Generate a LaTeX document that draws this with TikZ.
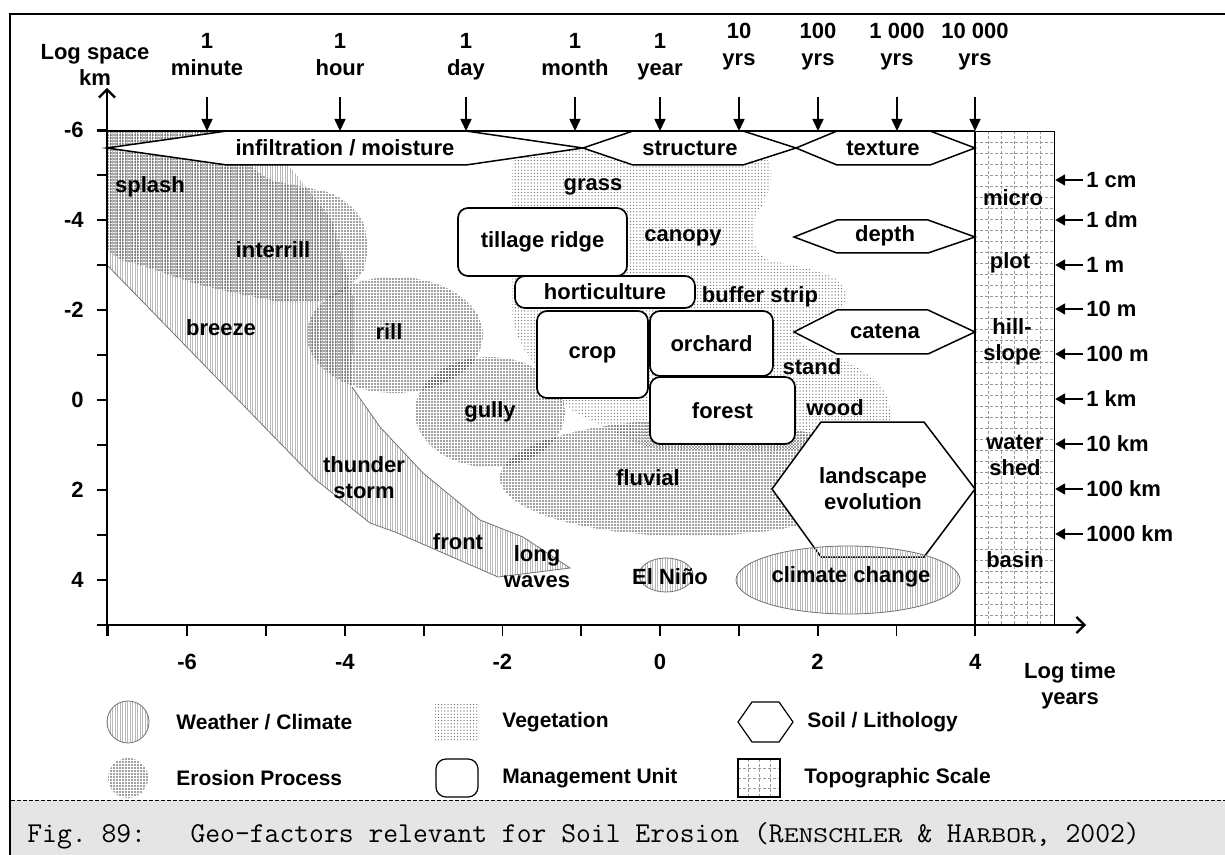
\documentclass[tikz,border=0pt]{standalone}
\usepackage{fontspec}
\setmainfont{Liberation Sans}
\usepackage{graphicx}
\usepackage{tikz}
\usetikzlibrary{positioning}
\usetikzlibrary{arrows.meta}
\usetikzlibrary{patterns.meta}
\definecolor{capgray}{rgb}{0.9,0.9,0.9}
\definecolor{rimgray}{rgb}{0.45,0.45,0.45}
\definecolor{gridgray}{rgb}{0.6,0.6,0.6}
\newcommand{\smcp}[1]{\scalebox{1}[0.78]{#1}}

\begin{document}
\begin{tikzpicture}[x=0.5pt,y=-0.5pt,
font=\bfseries\fontsize{11}{13}\selectfont,
txt/.style={inner sep=0pt, align=center},
legendtxt/.style={anchor=west, inner sep=0pt, font=\bfseries\fontsize{10.5}{12}\selectfont},
unitbox/.style={draw, line width=0.85pt, fill=white, rounded corners=5pt, inner sep=0pt},
soil/.style={draw, line width=0.75pt, fill=white},
erosion/.style={pattern={Dots[distance=1.5pt,radius=0.42pt]}, pattern color=black!75},
vegetation/.style={pattern={Dots[distance=1.6pt,radius=0.3pt]}, pattern color=black!65},
weather/.style={pattern={Lines[angle=90,distance=1.25pt,line width=0.25pt]}, pattern color=black!28},
rim/.style={draw=rimgray, line width=0.4pt},
gridline/.style={draw=gridgray, line width=0.3pt, dash pattern=on 1.5pt off 1pt},
axisline/.style={line width=1.1pt},
tickmark/.style={line width=0.9pt},
timearrow/.style={line width=0.8pt, -{Triangle[length=6pt,width=5.5pt]}},
scalearrow/.style={line width=0.9pt, -{Triangle[length=5pt,width=5.5pt]}}]
\useasboundingbox (0,0) rectangle (1225,855);

% frame and caption strip
\fill[capgray] (11,800) rectangle (1225,855);
\draw[line width=0.5pt, dash pattern=on 2pt off 1pt] (11,800) -- (1225,800);
\draw[line width=1.4pt] (10,855) -- (10,14) -- (1225,14);
\node[anchor=west, inner sep=0pt, font=\ttfamily\mdseries\fontsize{14.4}{16}\selectfont] (caption) at (27,836)
  {Fig.~89:~~~Geo-factors relevant for Soil Erosion (R\smcp{ENSCHLER} \& H\smcp{ARBOR}, 2002)};

% patterned areas
\begin{scope}
\clip (107,131) rectangle (975,625);
\fill[weather] (107,131) -- (262,131) -- (332,220) -- (354,300) -- (352,387) -- (380,427) -- (423,473) -- (480,520) -- (523,537) -- (570,568) -- (498,577) -- (395,532) -- (370,523) -- (316,480) -- (107,265) -- cycle;
\draw[rim] (107,265) -- (316,480) -- (370,523) -- (395,532) -- (498,577) -- (570,568) -- (523,537) -- (480,520) -- (423,473) -- (380,427) -- (352,387);
\fill[erosion, rounded corners=14pt] (100,124) -- (236,124) -- (252,178) -- (302,186) -- (352,198) -- (374,246) -- (354,292) -- (300,306) -- (240,294) -- (186,282) -- (150,266) -- (100,256) -- cycle;
\fill[erosion] (395,335) ellipse [x radius=88, y radius=58];
\fill[erosion] (490,412) ellipse [x radius=75, y radius=55];
\fill[erosion] (690,478) ellipse [x radius=190, y radius=58];
\fill[vegetation, rounded corners=10pt] (512,150) -- (770,150) -- (772,196) -- (752,212) -- (754,258) -- (800,266) -- (846,280) -- (848,312) -- (806,318) -- (790,342) -- (840,356) -- (888,388) -- (893,442) -- (780,452) -- (650,450) -- (560,405) -- (512,330) -- cycle;
\end{scope}

% soil band on top
\draw[soil] (107,148) -- (227,131) -- (466,131) -- (583,148) -- (466,165) -- (227,165) -- cycle;
\draw[soil] (583,148) -- (633,131) -- (743,131) -- (796,148) -- (743,165) -- (633,165) -- cycle;
\draw[soil] (796,148) -- (837,131) -- (930,131) -- (975,148) -- (930,165) -- (837,165) -- cycle;
\node[txt] (infil) at (345,148) {infiltration / moisture};
\node[txt] (struct) at (690,148) {structure};
\node[txt] (texture) at (883,148) {texture};

% soil shapes on the right
\draw[soil] (794,237) -- (837,220) -- (928,220) -- (975,237) -- (928,253) -- (837,253) -- cycle;
\draw[soil] (794,332) -- (837,310) -- (928,310) -- (975,332) -- (928,354) -- (837,354) -- cycle;
\draw[soil] (772,489) -- (821,422) -- (924,422) -- (975,489) -- (924,557) -- (821,557) -- cycle;
\node[txt] (depth) at (885,236) {depth};
\node[txt] (catena) at (885,331) {catena};
\node[txt] (landscape) at (873,489) {landscape\\evolution};

% climate
\path[weather, rim] (666,575) ellipse [x radius=27, y radius=17];
\path[weather, rim] (848,580) ellipse [x radius=112, y radius=34];
\node[txt] (nino) at (670,577) {El Niño};
\node[txt] (climate) at (851,577) {climate change};

% management units
\node[unitbox, minimum width=84.5pt, minimum height=34pt] (tillage) at (542.5,242) {tillage ridge};
\node[unitbox, minimum width=90pt, minimum height=16pt] (horti) at (605,292) {horticulture};
\node[unitbox, minimum width=55.5pt, minimum height=43.5pt] (crop) at (592.5,354.5) {crop};
\node[unitbox, minimum width=61.5pt, minimum height=32.5pt] (orchard) at (711.5,343.5) {orchard};
\node[unitbox, minimum width=72.5pt, minimum height=33.5pt] (forest) at (722.5,410.5) {forest};

% process and vegetation labels
\node[txt] (splash) at (150,187) {splash};
\node[txt] (interrill) at (273,250) {interrill};
\node[txt] (breeze) at (221,328) {breeze};
\node[txt] (rill) at (389,332) {rill};
\node[txt] (gully) at (490,412) {gully};
\node[txt] (thunder) at (364,478) {thunder\\storm};
\node[txt] (front) at (458,542) {front};
\node[txt] (longwaves) at (537,567) {long\\waves};
\node[txt] (fluvial) at (648,478) {fluvial};
\node[txt] (grass) at (593,187) {grass};
\node[txt] (canopy) at (683,238) {canopy};
\node[txt] (buffer) at (760,297) {buffer strip};
\node[txt] (stand) at (812,367) {stand};
\node[txt] (wood) at (835,408) {wood};

% topographic scale
\foreach \gx in {988,1001,...,1041} \draw[gridline] (\gx,131) -- (\gx,625);
\foreach \gy in {142,153,...,620} \draw[gridline] (975,\gy) -- (1054,\gy);
\node[draw, line width=0.6pt, minimum width=39.5pt, minimum height=247pt, inner sep=0pt, anchor=north west] (topo) at (975,131) {};
\draw[axisline] (topo.north west) -- (topo.south west);
\node[txt] (micro) at (1013,198) {micro};
\node[txt] (plot) at (1010,263) {plot};
\node[txt] (hill) at (1012,342) {hill-\\slope};
\node[txt] (water) at (1015,455) {water\\shed};
\node[txt] (basin) at (1015,560) {basin};
\foreach \yy/\lab [count=\i] in {180/1 cm,220/1 dm,265/1 m,309/10 m,354/100 m,399/1 km,444/10 km,489/100 km,534/1000 km}{
  \node[anchor=west, inner sep=1.5pt] (sc\i) at (1083,\yy) {\lab};
  \draw[scalearrow] (sc\i.west) -- (sc\i.west -| topo.east);
}

% axes
\coordinate (ytip) at (107,88);
\coordinate (yfoot) at (107,636);
\coordinate (xtip) at (1086,625);
\coordinate (xfoot) at (97,625);
\coordinate (topleft) at (97,131);
\draw[axisline, -{Straight Barb[length=4pt,width=8pt]}] (yfoot) -- (ytip);
\draw[axisline, -{Straight Barb[length=4pt,width=8pt]}] (xfoot) -- (xtip);
\draw[axisline] (topleft) -- (topo.north west);
\foreach \v in {-6,...,5} \draw[tickmark] (97,{400+45*\v}) -- (107,{400+45*\v});
\foreach \v in {-7,...,4} \draw[tickmark] ({660+78.8*\v},625) -- ({660+78.8*\v},636);
\foreach \v [count=\i] in {-6,-4,...,4} \node[anchor=east, inner sep=0pt] (ylab\i) at (84,{400+45*\v}) {\v};
\foreach \v [count=\i] in {-6,-4,...,4} \node[txt] (xlab\i) at ({660+78.8*\v},662) {\v};
\node[txt] (yname) at (95,65) {Log space\\km};
\node[txt] (xname) at (1070,686) {Log time\\years};

% time marks on top
\coordinate (arrowtop) at (0,97);
\coordinate (bandtop) at (0,131);
\foreach \tx/\tunit [count=\i] in {207/minute,340/hour,466/day,575/month,660/year}{
  \node[anchor=base, inner sep=0pt] (n\i) at (\tx,49) {1};
  \node[anchor=base, inner sep=0pt] (t\i) at (\tx,76) {\tunit};
  \draw[timearrow] (t\i |- arrowtop) -- (t\i |- bandtop);
}
\foreach \tx/\num [count=\i] in {739/10,818/100,897/1 000,975/10 000}{
  \node[anchor=base, inner sep=0pt] (m\i) at (\tx,39) {\num};
  \node[anchor=base, inner sep=0pt] (yr\i) at (\tx,66) {yrs};
  \draw[timearrow] (yr\i |- arrowtop) -- (yr\i |- bandtop);
}

% legend
\path[weather, rim] (128,722) ellipse [x radius=21, y radius=21];
\node[legendtxt] (lg1) at (176,722) {Weather / Climate};
\fill[vegetation] (435,703) rectangle (478,741);
\node[legendtxt] (lg2) at (502,722) {Vegetation};
\draw[soil, line width=0.6pt] (738,722) -- (752,702) -- (779,702) -- (793,722) -- (779,742) -- (752,742) -- cycle;
\node[legendtxt] (lg3) at (807,722) {Soil / Lithology};
\fill[erosion] (128,778) ellipse [x radius=20, y radius=20];
\node[legendtxt] (lg4) at (176,778) {Erosion Process};
\draw[unitbox, line width=0.6pt] (436,759) rectangle (478,797);
\node[legendtxt] (lg5) at (502,778) {Management Unit};
\foreach \gx in {748,759,770} \draw[gridline] (\gx,759) -- (\gx,797);
\foreach \gy in {768,778,788} \draw[gridline] (738,\gy) -- (780,\gy);
\draw[line width=0.6pt] (738,759) rectangle (780,797);
\node[legendtxt] (lg6) at (804,778) {Topographic Scale};
\end{tikzpicture}
\end{document}
